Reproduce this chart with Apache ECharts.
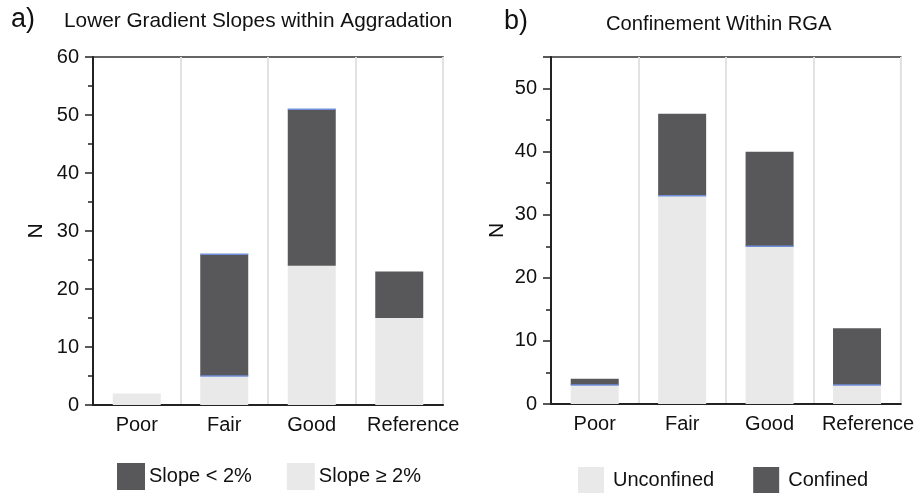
<!DOCTYPE html>
<html><head><meta charset="utf-8">
<script src="https://cdn.jsdelivr.net/npm/echarts@6/dist/echarts.min.js"></script>
<style>html,body{margin:0;padding:0;background:#fff}#c{width:917px;height:495px}</style>
</head><body><div id="c"></div>
<script>
const categories = ['Poor', 'Fair', 'Good', 'Reference'];
// Panel a
const slopeGE2 = [2, 5, 24, 15];
const slopeLT2 = [0, 21, 27, 8];
// Panel b
const unconfined = [3, 33, 25, 3];
const confined = [1, 13, 15, 9];
// thin blue edge lines visible in the picture: [category index, value]
const edgesA = [[1, 26], [1, 5], [2, 51]];
const edgesB = [[0, 3], [1, 33], [2, 25], [3, 3]];

const DARK = '#58585a';
const LIGHT = '#e9e9e9';
const BLUE = '#6f8fd8';
const FONT = 'Liberation Sans';
const TXT = '#111';
const BAR_W = 48;
const chart = echarts.init(document.getElementById('c'), null, {renderer: 'canvas'});

function yAx(gi, max, gap) {
  return {
    gridIndex: gi, type: 'value', min: 0, max: max, interval: 10,
    name: 'N', nameLocation: 'middle', nameGap: gap, nameRotate: 90,
    nameTextStyle: {fontFamily: FONT, fontSize: 21, color: TXT},
    axisLine: {show: true, lineStyle: {color: '#222', width: 2}},
    axisTick: {show: true, length: 8, lineStyle: {color: '#222', width: 1.5}},
    minorTick: {show: true, splitNumber: 2, length: 5, lineStyle: {color: '#222', width: 1.5}},
    splitLine: {show: false},
    axisLabel: {fontFamily: FONT, fontSize: 20, color: TXT, margin: 14, showMaxLabel: max % 10 === 0}
  };
}
function xAx(gi, refShift) {
  return {
    gridIndex: gi, type: 'category',
    data: categories.map(c => c === 'Reference' ? {value: c, textStyle: {padding: [0, 0, 0, refShift]}} : c),
    axisLine: {show: true, lineStyle: {color: '#222', width: 2}},
    axisTick: {show: false},
    splitLine: {show: true, interval: 0, lineStyle: {color: '#e2e2e2', width: 2}},
    axisLabel: {fontFamily: FONT, fontSize: 20, color: TXT, margin: 10, interval: 0}
  };
}
function edgeSeries(gi, edges) {
  return {
    type: 'custom', xAxisIndex: gi, yAxisIndex: gi, data: edges, z: 5, silent: true,
    renderItem: function (params, api) {
      const p = api.coord([api.value(0), api.value(1)]);
      return {type: 'line', shape: {x1: p[0] - BAR_W / 2, y1: p[1], x2: p[0] + BAR_W / 2, y2: p[1]},
              style: {stroke: BLUE, lineWidth: 1.5}};
    }
  };
}

chart.setOption({
  animation: false,
  title: [
    {text: 'a)', left: 11, top: 6, padding: 0, textStyle: {fontFamily: FONT, fontSize: 27, fontWeight: 'normal', color: TXT}},
    {text: 'Lower Gradient Slopes within Aggradation', left: 64, top: 11, padding: 0, textStyle: {fontFamily: FONT, fontSize: 20.8, fontWeight: 'normal', color: TXT}},
    {text: 'b)', left: 504, top: 8, padding: 0, textStyle: {fontFamily: FONT, fontSize: 27, fontWeight: 'normal', color: TXT}},
    {text: 'Confinement Within RGA', left: 606, top: 14, padding: 0, textStyle: {fontFamily: FONT, fontSize: 20.2, fontWeight: 'normal', color: TXT}}
  ],
  legend: [
    {data: ['Slope < 2%', 'Slope ≥ 2%'], left: 117, top: 463, padding: 0, itemWidth: 28, itemHeight: 27, itemGap: 35,
     textStyle: {fontFamily: FONT, fontSize: 20, color: TXT, padding: [0, 0, 0, -1]}, icon: 'rect'},
    {data: ['Unconfined', 'Confined'], left: 578, top: 467, padding: 0, itemWidth: 26, itemHeight: 26, itemGap: 39,
     textStyle: {fontFamily: FONT, fontSize: 20, color: TXT, padding: [0, 0, 0, 4]}, icon: 'rect'}
  ],
  grid: [
    {left: 93, right: 474, top: 57, bottom: 90, show: true, borderColor: '#333', borderWidth: 1.5, backgroundColor: 'transparent'},
    {left: 551, right: 15, top: 57, bottom: 91, show: true, borderColor: '#333', borderWidth: 1.5, backgroundColor: 'transparent'}
  ],
  xAxis: [xAx(0, 28), xAx(1, 22)],
  yAxis: [yAx(0, 60, 46), yAx(1, 55, 43)],
  series: [
    {name: 'Slope ≥ 2%', type: 'bar', stack: 'a', xAxisIndex: 0, yAxisIndex: 0, data: slopeGE2, barWidth: BAR_W, itemStyle: {color: LIGHT}},
    {name: 'Slope < 2%', type: 'bar', stack: 'a', xAxisIndex: 0, yAxisIndex: 0, data: slopeLT2, barWidth: BAR_W, itemStyle: {color: DARK}},
    {name: 'Unconfined', type: 'bar', stack: 'b', xAxisIndex: 1, yAxisIndex: 1, data: unconfined, barWidth: BAR_W, itemStyle: {color: LIGHT}},
    {name: 'Confined', type: 'bar', stack: 'b', xAxisIndex: 1, yAxisIndex: 1, data: confined, barWidth: BAR_W, itemStyle: {color: DARK}},
    edgeSeries(0, edgesA),
    edgeSeries(1, edgesB)
  ]
});
</script></body></html>
